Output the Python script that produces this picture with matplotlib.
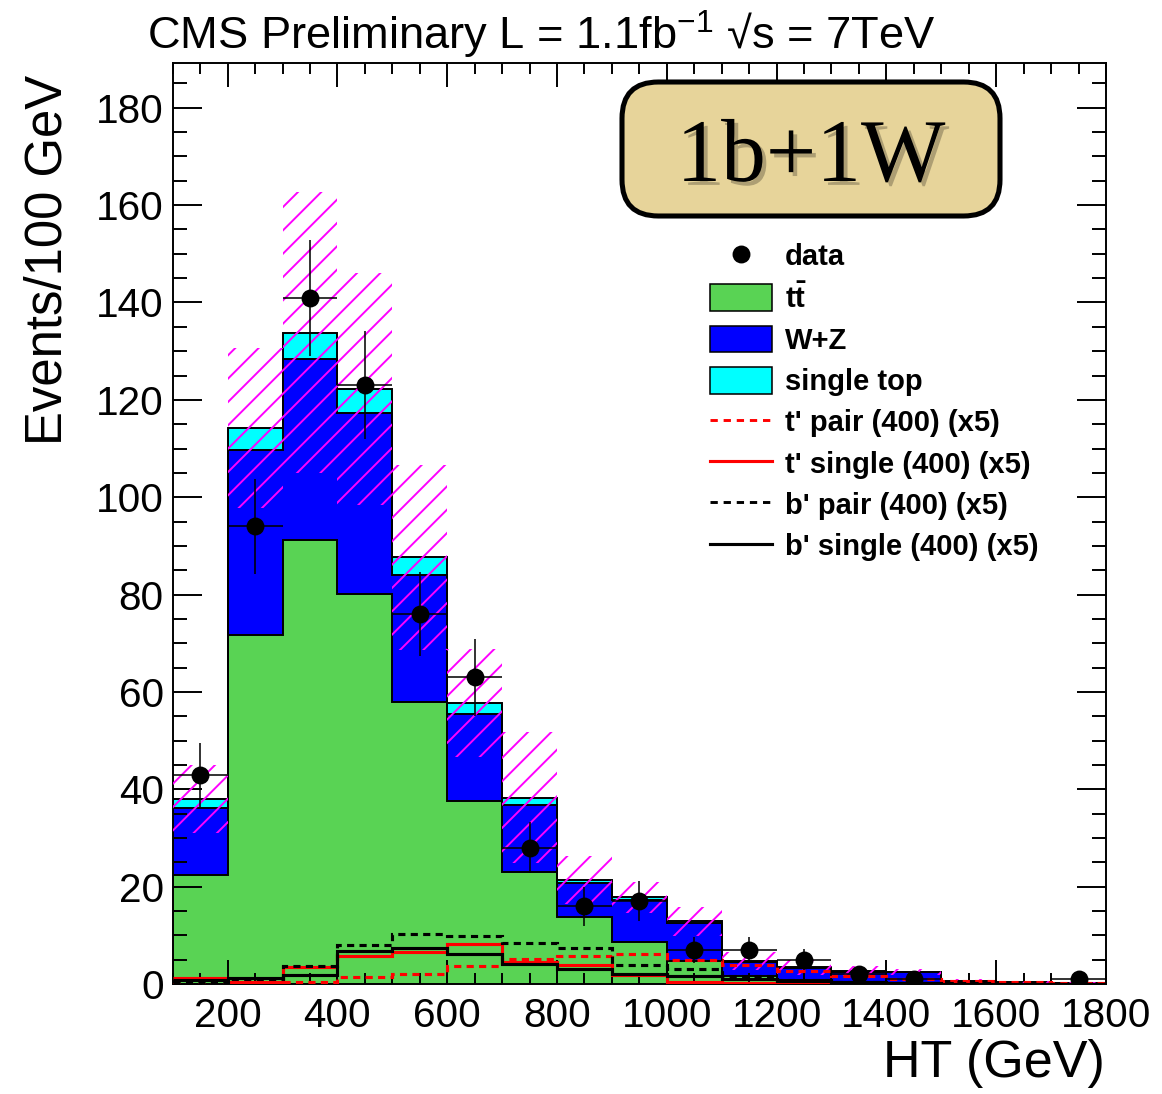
import numpy as np
import matplotlib
matplotlib.use("Agg")
import matplotlib.pyplot as plt
from matplotlib.patches import Patch, FancyBboxPatch
from matplotlib.lines import Line2D
from matplotlib.ticker import MultipleLocator
import matplotlib.patheffects as pe

plt.rcParams['font.family'] = ['Liberation Sans', 'DejaVu Sans']
plt.rcParams['mathtext.fontset'] = 'custom'
plt.rcParams['mathtext.rm'] = 'Liberation Sans'
plt.rcParams['mathtext.bf'] = 'Liberation Sans:bold'
plt.rcParams['hatch.linewidth'] = 1.0

# ---------------- data (events per 100 GeV bin) ----------------
ht_edges = [100, 200, 300, 400, 500, 600, 700, 800, 900, 1000,
            1100, 1200, 1300, 1400, 1500, 1600, 1700, 1800]

ttbar = [22.4, 71.7, 91.2, 80.1, 57.9, 37.6, 23.0, 13.8, 8.6, 4.7,
         1.6, 0.9, 0.5, 0.3, 0.15, 0.1, 0.05]
w_plus_z = [13.7, 38.0, 37.1, 37.3, 26.1, 17.8, 13.7, 7.0, 8.6, 7.8,
            2.9, 2.4, 2.0, 2.1, 0.35, 0.2, 0.1]
single_top = [1.9, 4.5, 5.5, 4.9, 3.7, 2.4, 1.6, 0.6, 0.6, 0.4,
              0.2, 0.1, 0.1, 0.1, 0.05, 0.05, 0.05]
bkg_unc = [6.9, 16.4, 28.8, 23.8, 19.0, 11.1, 13.4, 4.9, 3.2, 3.0,
           1.9, 1.5, 1.0, 0.6, 0.5, 0.3, 0.2]

data_counts = [43, 94, 141, 123, 76, 63, 28, 16, 17, 7, 7, 5, 2, 1, 0, 0, 1]
data_err = [6.6, 9.7, 11.9, 11.1, 8.7, 7.9, 5.3, 4.0, 4.1, 2.6, 2.6, 2.2,
            1.4, 1.0, 0.0, 0.0, 1.0]

tprime_pair = [0.1, 0.3, 0.5, 1.4, 2.05, 3.7, 5.1, 5.75, 6.2, 4.9,
               3.9, 2.7, 1.6, 1.0, 0.6, 0.4, 0.2]
tprime_single = [1.2, 0.5, 3.4, 5.75, 6.6, 8.2, 4.6, 4.0, 1.8, 0.5,
                 0.3, 0.2, 0.1, 0.1, 0.05, 0.05, 0.02]
bprime_pair = [0.3, 1.0, 3.7, 8.0, 10.3, 9.9, 8.5, 7.3, 3.9, 3.0,
               1.7, 0.9, 0.5, 0.3, 0.2, 0.1, 0.05]
bprime_single = [0.8, 1.3, 1.85, 6.8, 7.3, 6.2, 4.2, 3.0, 2.0, 1.7,
                 1.0, 0.6, 0.4, 0.2, 0.1, 0.1, 0.05]

x_ticks = [200, 400, 600, 800, 1000, 1200, 1400, 1600, 1800]
y_ticks = [0, 20, 40, 60, 80, 100, 120, 140, 160, 180]

# ---------------- colours ----------------
c_tt = '#59D354'
c_wz = '#0000FF'
c_st = '#00FFFF'
c_band = '#FF00FF'

DPI = 140
W, H = 1162, 1094
fig = plt.figure(figsize=(W / DPI, H / DPI), dpi=DPI)
ax = fig.add_axes([172.7 / W, (H - 984) / H, (1106 - 172.7) / W, (984 - 63) / H])

edges = np.array(ht_edges, dtype=float)
centers = 0.5 * (edges[:-1] + edges[1:])
half_w = 0.5 * np.diff(edges)

l1 = np.array(ttbar)
l2 = l1 + np.array(w_plus_z)
l3 = l2 + np.array(single_top)

# stacked backgrounds
ax.stairs(l3, edges, baseline=l2, fill=True, color=c_st, zorder=1)
ax.stairs(l2, edges, baseline=l1, fill=True, color=c_wz, zorder=1)
ax.stairs(l1, edges, baseline=0, fill=True, color=c_tt, zorder=1)
for top in (l3, l2, l1):
    ax.stairs(top, edges, baseline=None, color='black', linewidth=1.0, zorder=2)

# background uncertainty band
unc = np.array(bkg_unc)
ax.stairs(l3 + unc, edges, baseline=np.clip(l3 - unc, 0, None), fill=True,
          facecolor='none', edgecolor=c_band, hatch='//', linewidth=0, zorder=3)

# signal templates
sig_lw = 1.6
dash = (0, (2.3, 1.7))
ax.stairs(tprime_pair, edges, baseline=None, color='red', linewidth=sig_lw,
          linestyle=dash, zorder=4)
ax.stairs(tprime_single, edges, baseline=None, color='red', linewidth=sig_lw, zorder=4)
ax.stairs(bprime_pair, edges, baseline=None, color='black', linewidth=sig_lw,
          linestyle=dash, zorder=4)
ax.stairs(bprime_single, edges, baseline=None, color='black', linewidth=sig_lw, zorder=4)

# data
dc = np.array(data_counts, dtype=float)
de = np.array(data_err)
keep = dc > 0
ax.errorbar(centers[keep], dc[keep], xerr=half_w[keep], yerr=de[keep], fmt='o',
            color='black', markersize=8.2, elinewidth=0.8, capsize=0, zorder=6)

# axes styling
ax.set_xlim(100, 1800)
ax.set_ylim(0, 189.2)
ax.set_xticks(x_ticks)
ax.set_yticks(y_ticks)
ax.xaxis.set_minor_locator(MultipleLocator(50))
ax.yaxis.set_minor_locator(MultipleLocator(5))
ax.tick_params(axis='x', which='major', direction='in', length=12.3, width=1.0,
               top=True, bottom=True, labelsize=20.8, pad=6.5)
ax.tick_params(axis='x', which='minor', direction='in', length=5.7, width=1.0,
               top=True, bottom=True)
ax.tick_params(axis='y', which='major', direction='in', length=14.9, width=1.0,
               left=True, right=True, labelsize=20.8, pad=4.6)
ax.tick_params(axis='y', which='minor', direction='in', length=7.2, width=1.0,
               left=True, right=True)
for s in ax.spines.values():
    s.set_linewidth(1.0)

ax.text(-0.1336, 0.987, 'Events/100 GeV', rotation=90, ha='center', va='top',
        transform=ax.transAxes, fontsize=26.2)
fig.text(1105 / W, 1 - 1063 / H, 'HT (GeV)', ha='right', va='center', fontsize=26.8)
fig.text(541 / W, 1 - 50 / H, r'CMS Preliminary L = 1.1fb$^{-1}$ √s = 7TeV',
         ha='center', va='baseline', fontsize=23.3)

# channel label box
box = FancyBboxPatch((622 / DPI, (H - 216) / DPI), (1000 - 622) / DPI, (216 - 82) / DPI,
                     boxstyle='round,pad=0,rounding_size=0.26',
                     transform=fig.dpi_scale_trans, facecolor='#E7D49A',
                     edgecolor='black', linewidth=2.6, zorder=10)
fig.add_artist(box)
fig.text(811 / W, 1 - 181 / H, '1b+1W', ha='center', va='baseline',
         family='Liberation Serif', fontsize=46, zorder=11,
         path_effects=[pe.withSimplePatchShadow(offset=(2, -2), alpha=0.25)])

# legend
handles = [
    Line2D([], [], marker='o', color='black', linestyle='none', markersize=8.2),
    Patch(facecolor=c_tt, edgecolor='black', linewidth=0.8),
    Patch(facecolor=c_wz, edgecolor='black', linewidth=0.8),
    Patch(facecolor=c_st, edgecolor='black', linewidth=0.8),
    Line2D([], [], color='red', linewidth=1.5, linestyle=(0, (2.5, 2.0))),
    Line2D([], [], color='red', linewidth=1.6),
    Line2D([], [], color='black', linewidth=1.5, linestyle=(0, (2.5, 2.0))),
    Line2D([], [], color='black', linewidth=1.6),
]
labels = ['data', r't$\mathbf{\bar{t}}$', 'W+Z', 'single top',
          "t' pair (400) (x5)", "t' single (400) (x5)",
          "b' pair (400) (x5)", "b' single (400) (x5)"]
leg = ax.legend(handles, labels, loc='upper left',
                bbox_to_anchor=(710 / W, 1 - 242 / H), bbox_transform=fig.transFigure,
                frameon=False, borderpad=0, borderaxespad=0,
                prop={'weight': 'bold', 'size': 15},
                handlelength=2.14, handleheight=1.03, handletextpad=0.42,
                labelspacing=0.41)

fig.savefig('out.png', dpi=DPI)
